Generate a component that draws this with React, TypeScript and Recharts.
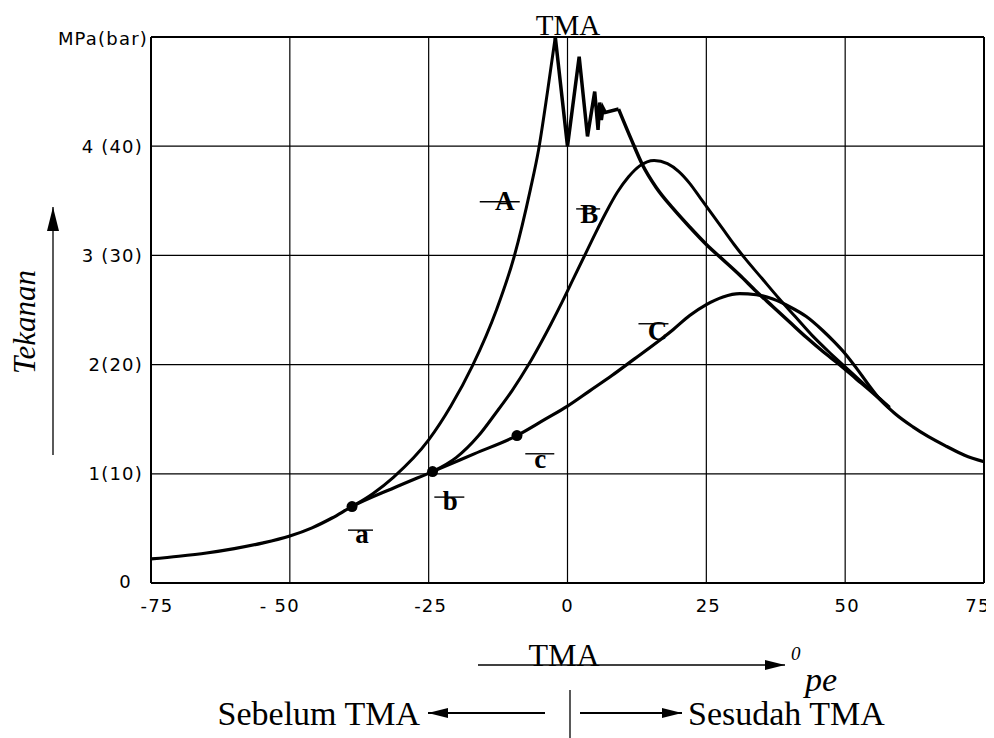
import React from 'react';
import { ComposedChart, Line, XAxis, YAxis, CartesianGrid, Scatter, ReferenceLine } from 'recharts';

// ---- axis ticks ----
const xTicks = [-75, -50, -25, 0, 25, 50, 75];
const xTickLabels = ['-75', '- 50', '-25', '0', '25', '50', '75'];
const yTicks = [0, 1, 2, 3, 4, 5];
const yTickLabels = ['0', '1(10)', '2(20)', '3 (30)', '4 (40)', 'MPa(bar)'];

// ---- curves [crank angle, pressure MPa] ----
const curveC = [
  [-75, 0.22], [-70, 0.245], [-65, 0.275], [-60, 0.315], [-55, 0.365], [-50, 0.43], [-46, 0.505],
  [-42.4, 0.595], [-38.8, 0.7], [-31.3, 0.87], [-24.3, 1.02], [-16.7, 1.185], [-9.1, 1.35],
  [-4, 1.5], [0, 1.62], [4, 1.76], [8, 1.9], [12, 2.05], [16, 2.2], [19, 2.32], [22, 2.45],
  [25, 2.55], [28, 2.62], [31, 2.65], [34, 2.64], [37, 2.6], [40, 2.53], [43, 2.44],
  [46, 2.31], [48, 2.21], [50, 2.1], [52, 1.97], [54, 1.83], [56.3, 1.68], [59, 1.55],
  [62.2, 1.43], [65, 1.34], [68.3, 1.25], [71.5, 1.17], [75, 1.11],
];
const curveARise = [
  [-38.8, 0.7], [-35, 0.82], [-31.3, 0.97], [-25, 1.31], [-21, 1.62], [-17.1, 1.99],
  [-12.8, 2.5], [-9.6, 2.99], [-6.7, 3.6], [-5.2, 3.97], [-3.6, 4.5], [-2.2, 5.0],
];
const curveAOsc = [
  [-2.2, 5.0], [0, 4.0], [2.1, 4.82], [3.6, 4.09], [4.9, 4.5], [5.5, 4.15], [5.8, 4.4],
  [6.1, 4.24], [6.4, 4.35], [6.8, 4.31], [9.2, 4.34],
];
const curveAFall = [
  [9.2, 4.34], [11.5, 4.06], [13.4, 3.84], [16, 3.62], [19, 3.43], [22, 3.26], [25, 3.1],
  [28, 2.96], [31, 2.82], [34, 2.67], [37, 2.53], [40, 2.39], [43, 2.25], [46, 2.12],
  [49, 2.0], [52, 1.87], [55, 1.74], [58, 1.6],
];
const curveB = [
  [-24.3, 1.02], [-20, 1.15], [-16, 1.35], [-13, 1.55], [-10, 1.76], [-7, 2.0], [-5, 2.18],
  [-3, 2.37], [-1, 2.57], [1, 2.78], [3, 2.99], [5, 3.2], [7, 3.4], [9, 3.58], [11, 3.72],
  [13, 3.82], [15.6, 3.87], [18, 3.84], [20, 3.77], [22, 3.66], [24, 3.52], [26, 3.38],
  [28, 3.24], [30, 3.1], [32, 2.97], [35, 2.79], [38, 2.61], [41, 2.44], [44, 2.27],
  [47, 2.12], [50, 1.98], [53, 1.84], [56, 1.7], [58, 1.61],
];
const ignitionPoints = [[-38.8, 0.7], [-24.3, 1.02], [-9.1, 1.35]];
const curveLabelText = ['A', 'B', 'C', 'a', 'b', 'c'];
const curveLabelPos = [[-11.3, 3.5], [3.9, 3.38], [16.2, 2.31], [-37.0, 0.42], [-21.1, 0.75], [-4.9, 1.11]];

const pts = (arr: number[][]) => arr.map(([x, y]) => ({ x, y }));
const labelData = curveLabelPos.map(([x, y], i) => ({ x, y, text: curveLabelText[i] }));

const strike: Record<string, [number, number, number, number]> = {
  // dy of strike, x1, x2, baseline offset
  A: [1, -25, 15, 9],
  B: [-5, -13, 11, 9],
  C: [-7, -19, 11, 9],
  a: [-7, -14, 11, 6],
  b: [-4, -16, 14, 9],
  c: [-8, -15, 14, 6],
};

const LabelShape = (props: any) => {
  const { cx, cy, payload } = props;
  const s = strike[payload.text];
  return (
    <g>
      <text x={cx} y={cy + s[3]} textAnchor="middle" fontFamily="'Liberation Serif', serif" fontWeight="bold" fontSize={27} fill="#000">
        {payload.text}
      </text>
      <line x1={cx + s[1]} x2={cx + s[2]} y1={cy + s[0]} y2={cy + s[0]} stroke="#000" strokeWidth={1.4} />
    </g>
  );
};

const DotShape = (props: any) => <circle cx={props.cx} cy={props.cy} r={5.5} fill="#000" />;

const tickFont = { fontFamily: "'DejaVu Sans', sans-serif", fontSize: 18, letterSpacing: 1.2 };

const XTick = (props: any) => {
  const { x, y, payload } = props;
  const i = xTicks.indexOf(payload.value);
  const dxMap = [6, -10, 2, 0, 2, 2, -6];
  return (
    <text x={x + (dxMap[i] || 0)} y={y + 29} textAnchor="middle" fill="#000" style={tickFont}>
      {xTickLabels[i]}
    </text>
  );
};

const YTick = (props: any) => {
  const { x, y, payload } = props;
  const i = yTicks.indexOf(payload.value);
  const dxMap = [-19, -8, -8, -8, -8, -3];
  const dyMap = [-2, 0, 0, 0, 0, 1];
  return (
    <text x={x + dxMap[i]} y={y + dyMap[i] + 6.5} textAnchor="end" fill="#000" style={tickFont}>
      {yTickLabels[i]}
    </text>
  );
};

const serif = "'Liberation Serif', 'Times New Roman', serif";

export default function App() {
  const W = 986;
  const H = 730;
  return (
    <div style={{ position: 'relative', width: W, height: H, background: '#fff' }}>
      <ComposedChart width={W} height={H} margin={{ top: 29, right: 10, left: 0, bottom: 125 }}>
        <CartesianGrid stroke="#000" strokeWidth={1.2} />
        <XAxis
          type="number"
          dataKey="x"
          domain={[-75, 75]}
          ticks={xTicks}
          allowDataOverflow
          height={30}
          tickLine={false}
          tickSize={0}
          tickMargin={0}
          axisLine={{ stroke: '#000', strokeWidth: 2 }}
          tick={<XTick />}
        />
        <YAxis
          type="number"
          dataKey="y"
          domain={[0, 5]}
          ticks={yTicks}
          allowDataOverflow
          width={143}
          tickLine={false}
          tickSize={0}
          tickMargin={0}
          axisLine={{ stroke: '#000', strokeWidth: 2 }}
          tick={<YTick />}
        />
        <ReferenceLine x={75} stroke="#000" strokeWidth={2} />
        <ReferenceLine y={5} stroke="#000" strokeWidth={2} />
        <Line data={pts(curveC)} dataKey="y" type="monotone" stroke="#000" strokeWidth={3.2} dot={false} isAnimationActive={false} />
        <Line data={pts(curveARise)} dataKey="y" type="monotone" stroke="#000" strokeWidth={3} dot={false} isAnimationActive={false} />
        <Line data={pts(curveAOsc)} dataKey="y" type="linear" stroke="#000" strokeWidth={3.5} strokeLinejoin="miter" dot={false} isAnimationActive={false} />
        <Line data={pts(curveAFall)} dataKey="y" type="monotone" stroke="#000" strokeWidth={3.5} dot={false} isAnimationActive={false} />
        <Line data={pts(curveB)} dataKey="y" type="monotone" stroke="#000" strokeWidth={3} dot={false} isAnimationActive={false} />
        <Scatter data={pts(ignitionPoints)} dataKey="y" shape={<DotShape />} isAnimationActive={false} />
        <Scatter data={labelData} dataKey="y" shape={<LabelShape />} isAnimationActive={false} />
      </ComposedChart>
      <svg width={W} height={H} style={{ position: 'absolute', left: 0, top: 0, pointerEvents: 'none' }}>
        <defs>
          <marker id="ah" viewBox="0 0 20 10" refX="20" refY="5" markerWidth="20" markerHeight="10" markerUnits="userSpaceOnUse" orient="auto">
            <path d="M0,0 L20,5 L0,10 z" fill="#000" />
          </marker>
          <marker id="ahv" viewBox="0 0 24 12" refX="24" refY="6" markerWidth="24" markerHeight="12" markerUnits="userSpaceOnUse" orient="auto">
            <path d="M0,0 L24,6 L0,12 z" fill="#000" />
          </marker>
        </defs>
        {/* top TMA */}
        <text x={560} y={27} textAnchor="middle" fontFamily={serif} fontSize={29} fill="#000">TMA</text>
        {/* y title */}
        <text x={16} y={314} transform="rotate(-90 16 314)" textAnchor="middle" dominantBaseline="central" fontFamily={serif} fontStyle="italic" fontSize={31} fill="#000">Tekanan</text>
        <line x1={45} y1={447} x2={45} y2={199} stroke="#000" strokeWidth={1.3} markerEnd="url(#ahv)" />
        {/* bottom axis annotation */}
        <line x1={470} y1={657} x2={777} y2={657} stroke="#000" strokeWidth={1.3} markerEnd="url(#ah)" />
        <text x={556} y={658} textAnchor="middle" fontFamily={serif} fontSize={32} fill="#000">TMA</text>
        <text x={783} y={652} fontFamily={serif} fontStyle="italic" fontSize={19} fill="#000">0</text>
        <text x={797} y={683} fontFamily={serif} fontStyle="italic" fontSize={34} fill="#000">pe</text>
        <line x1={562} y1={682} x2={562} y2={730} stroke="#000" strokeWidth={1.3} />
        <line x1={537} y1={705} x2={420} y2={705} stroke="#000" strokeWidth={2} markerEnd="url(#ah)" />
        <line x1={572} y1={705} x2={674} y2={705} stroke="#000" strokeWidth={2} markerEnd="url(#ah)" />
        <text x={412} y={717} textAnchor="end" fontFamily={serif} fontSize={34} fill="#000">Sebelum TMA</text>
        <text x={680} y={717} fontFamily={serif} fontSize={34} fill="#000">Sesudah TMA</text>
      </svg>
    </div>
  );
}
